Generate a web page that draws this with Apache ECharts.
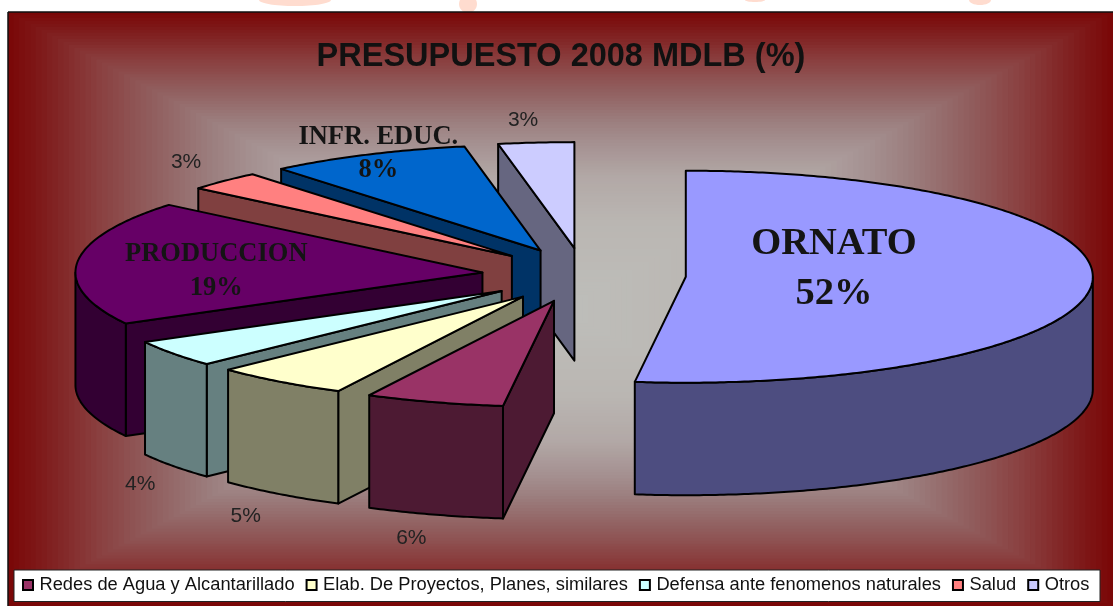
<!DOCTYPE html>
<html><head><meta charset="utf-8">
<style>html,body{margin:0;padding:0;background:#fff}#c{width:1113px;height:606px}</style>
<script src="https://cdn.jsdelivr.net/npm/echarts@6/dist/echarts.min.js"></script>
</head><body><div id="c"></div>
<script>
// ---- data (clockwise from 12 o'clock) ----
const sliceNames = ['ORNATO','Redes de Agua y Alcantarillado','Elab. De Proyectos, Planes, similares','Defensa ante fenomenos naturales','PRODUCCION','Salud','INFR. EDUC.','Otros'];
const sliceValues = [52,5.5,5.4,4.1,19,3,8,3];
const sliceColors = ['#9999ff','#993366','#ffffcc','#ccffff','#660066','#ff8080','#0066cc','#ccccff'];
const legendNames = ['Redes de Agua y Alcantarillado','Elab. De Proyectos, Planes, similares','Defensa ante fenomenos naturales','Salud','Otros'];
const titleText = 'PRESUPUESTO 2008 MDLB (%)';

// ---- layout ----
const CX=584, CY=275, RX=407, RY=106, DEPTH=112.5, EX=102, EY=27;
const serif='"Liberation Serif","Times New Roman",serif', sans='"Liberation Sans",Arial,sans-serif';
const labelStyle = {
  'ORNATO':{text:'ORNATO\n52%',off:[-258,-14],font:'bold 38.5px '+serif,lh:50,color:'#141414'},
  'PRODUCCION':{text:'PRODUCCION\n19%',off:[139,9],font:'bold 26.5px '+serif,lh:34,color:'#141414'},
  'INFR. EDUC.':{text:'INFR. EDUC.\n8%',off:[11,-1],font:'bold 26.5px '+serif,lh:33,color:'#141414'},
  'Redes de Agua y Alcantarillado':{off:[-23,136]},
  'Elab. De Proyectos, Planes, similares':{off:[-34,135]},
  'Defensa ante fenomenos naturales':{off:[-33,131]},
  'Salud':{off:[-38,-19]},
  'Otros':{off:[-13,-22]}
};
const total = sliceValues.reduce((a,b)=>a+b,0);
const slices=[]; let acc=0;
sliceValues.forEach((v,i)=>{
  const a0=acc/total*2*Math.PI; acc+=v; const a1=acc/total*2*Math.PI;
  slices.push({i,name:sliceNames[i],value:v,a0,a1,mid:(a0+a1)/2,color:sliceColors[i]});
});
const order = slices.slice().sort((p,q)=>Math.cos(q.mid)-Math.cos(p.mid));
function dark(hex){
  const n=parseInt(hex.slice(1),16);
  return 'rgb('+[(n>>16)&255,(n>>8)&255,n&255].map(c=>Math.round(c/2)).join(',')+')';
}
function renderSlice(params,api){
  const s=slices[api.value(0)];
  const tx=CX+EX*Math.sin(s.mid), ty=CY-EY*Math.cos(s.mid);
  const P=a=>[tx+RX*Math.sin(a), ty-RY*Math.cos(a)];
  const down=p=>[p[0],p[1]+DEPTH];
  const side=dark(s.color), st={stroke:'#000',lineWidth:2,lineJoin:'round'};
  const kids=[];
  const tip=[tx,ty];
  const poly=(pts,fill)=>kids.push({type:'polygon',shape:{points:pts},style:Object.assign({fill},st)});
  // radial faces turned towards the viewer
  if(Math.sin(s.a0)<-1e-6) poly([tip,P(s.a0),down(P(s.a0)),down(tip)],side);
  if(Math.sin(s.a1)>1e-6) poly([tip,P(s.a1),down(P(s.a1)),down(tip)],side);
  // outer curved wall: only the front half
  const w0=Math.max(s.a0,Math.PI/2), w1=Math.min(s.a1,Math.PI*1.5);
  if(w1>w0){
    const top=[],n=Math.ceil((w1-w0)/0.01);
    for(let k=0;k<=n;k++) top.push(P(w0+(w1-w0)*k/n));
    poly(top.concat(top.slice().reverse().map(down)),side);
  }
  // top face
  const pts=[tip],m=Math.ceil((s.a1-s.a0)/0.01);
  for(let k=0;k<=m;k++) pts.push(P(s.a0+(s.a1-s.a0)*k/m));
  poly(pts,s.color);
  // label
  const l=labelStyle[s.name], rim=P(s.mid);
  kids.push({type:'text',z2:50,style:{
    x:rim[0]+l.off[0], y:rim[1]+l.off[1], text:l.text||(Math.round(s.value)+'%'),
    font:l.font||('21px '+sans), lineHeight:l.lh||24, fill:l.color||'#222',
    align:'center', verticalAlign:'middle'}});
  return {type:'group',children:kids};
}
// ---- rectangular "path" background of the plot frame ----
const BG={x:8,y:12,w:1105,h:594};
const stops=[[0,[122,8,8]],[.06,[127,28,28]],[.16,[138,64,64]],[.26,[145,95,95]],[.36,[155,125,125]],[.44,[165,145,145]],[.55,[178,168,166]],[.7,[186,182,178]],[1,[190,190,186]]];
function bgColor(t){
  for(let i=1;i<stops.length;i++) if(t<=stops[i][0]){
    const a=stops[i-1],b=stops[i],f=(t-a[0])/(b[0]-a[0]);
    return 'rgb('+a[1].map((c,j)=>Math.round(c+(b[1][j]-c)*f)).join(',')+')';
  }
  return 'rgb(190,190,186)';
}
const bgEls=[];
const STEPS=100;
for(let k=0;k<STEPS;k++){
  const t=k/STEPS, dx=t*BG.w/2, dy=t*BG.h/2;
  bgEls.push({type:'rect',silent:true,z:-10,shape:{x:BG.x+dx,y:BG.y+dy,width:BG.w-2*dx,height:BG.h-2*dy},style:{fill:bgColor(t)}});
}
const smudges=[[295,0,36,6],[468,4,9,9],[755,0,10,2],[980,0,11,5]].map(e=>({type:'ellipse',silent:true,z:-11,shape:{cx:e[0],cy:e[1],rx:e[2],ry:e[3]},style:{fill:'#ffdccf'}}));
const frame=[
  {type:'line',silent:true,z:-5,shape:{x1:8,y1:12,x2:1113,y2:12},style:{stroke:'#111',lineWidth:1.5}},
  {type:'line',silent:true,z:-5,shape:{x1:8,y1:12,x2:8,y2:606},style:{stroke:'#111',lineWidth:1.5}},
  {type:'rect',silent:true,z:-4,shape:{x:14,y:570,width:1086,height:31.5},style:{fill:'#fff',stroke:'#222',lineWidth:1}}
];
const chart=echarts.init(document.getElementById('c'),null,{renderer:'canvas'});
chart.setOption({
  animation:false,
  title:{text:titleText,left:556,top:52,textAlign:'center',textVerticalAlign:'middle',
    textStyle:{fontFamily:sans,fontSize:32.5,fontWeight:'bold',color:'#111'}},
  legend:{data:legendNames,left:22,top:576,padding:0,itemGap:11,itemWidth:10,itemHeight:10,icon:'rect',
    selectedMode:false,itemStyle:{borderColor:'#000',borderWidth:2},
    textStyle:{fontFamily:sans,fontSize:18.3,color:'#111',padding:[0,0,0,1.5]}},
  graphic:{elements:smudges.concat(bgEls,frame)},
  series:order.map(s=>({type:'custom',name:s.name,coordinateSystem:'none',silent:true,
    itemStyle:{color:s.color},data:[[s.i]],renderItem:renderSlice,clip:false}))
});
</script></body></html>
